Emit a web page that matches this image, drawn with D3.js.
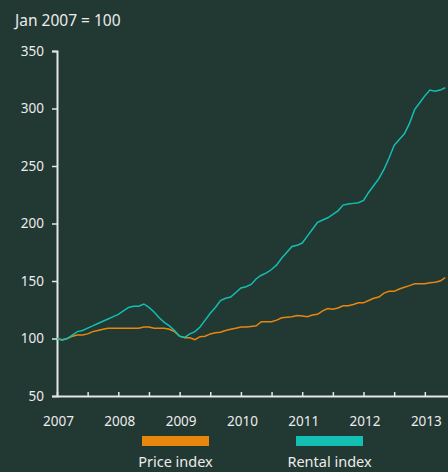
<!DOCTYPE html>
<html lang="en">
<head>
  <meta charset="utf-8">
  <title>Price and rental index</title>
  <script src="https://d3js.org/d3.v7.min.js"></script>
  <style media="screen">
    body{
      margin: 0;
      background-color: #223833;
    }
    text{
      font-family: "Noto Sans", "Open Sans", sans-serif;
      fill: #ececec;
    }
  </style>
</head>
<body>

<div id="my_dataviz"></div>

<script>

    // monthly values, Jan 2007 = 100
    var startYear = 2007
    var priceIndex = [100, 99, 100, 102, 103, 103, 104, 106, 107, 108, 109, 109,
      109, 109, 109, 109, 109, 110, 110, 109, 109, 109, 108, 106,
      102, 100.7, 100.7, 99, 101.6, 102, 104, 105, 105.5, 107, 108, 109,
      110, 110, 110.5, 111, 114.6, 114.6, 114.6, 116, 118, 118.5, 119, 120,
      119.5, 119, 120.4, 121, 124, 126, 125.5, 126.5, 128.5, 128.5, 129.5, 131,
      131, 133, 135, 136, 139.5, 141, 141, 143, 144.5, 146, 147.6, 147.6,
      147.6, 148.5, 149, 150, 153]
    var rentalIndex = [100, 98.5, 100, 103, 106, 107, 109, 111, 113, 115, 117, 119,
      121, 124, 127, 128, 128, 130, 127, 123, 118, 114, 111, 107,
      102, 101, 104, 106, 110, 116, 122, 127, 133, 135, 136, 140,
      144, 145, 147, 152, 155, 157, 160, 164, 170, 175, 180, 181,
      183, 189, 195, 201, 203, 205, 208, 211, 216, 217, 217.5, 218,
      220, 227, 233, 239, 247, 257, 268, 273, 278, 287, 299, 305,
      311, 316, 315, 316, 318]
    var seriesNames = ["Price index", "Rental index"]
    var seriesColors = ["#e8870e", "#12bfb2"]
    var yTicks = [50, 100, 150, 200, 250, 300, 350]
    var xLabels = [2007, 2008, 2009, 2010, 2011, 2012, 2013]

    var width = 448
    var height = 472

    var svg = d3.select("#my_dataviz")
      .append("svg")
        .attr("width", width)
        .attr("height", height)

    svg.append("rect")
      .attr("width", width)
      .attr("height", height)
      .attr("fill", "#223833")

    var x = d3.scaleLinear()
      .domain([2007, 2013.378])
      .range([57, 448])

    var y = d3.scaleLinear()
      .domain([50, 350])
      .range([396, 51])

    // title
    svg.append("text")
      .attr("x", 15)
      .attr("y", 26)
      .style("font-size", "15.5px")
      .text("Jan 2007 = 100")

    // y axis
    var yAxis = svg.append("g")
      .attr("transform", "translate(57,0)")
      .call(d3.axisLeft(y).tickValues(yTicks).tickSize(5).tickPadding(8))
    yAxis.select(".domain").attr("stroke", "#e6e6e6").attr("stroke-width", 2)
    yAxis.selectAll(".tick line").attr("stroke", "#e6e6e6").attr("stroke-width", 1.5)
    yAxis.selectAll(".tick text").style("font-size", "13.5px").attr("fill", "#ececec")

    // x axis, half-year ticks pointing up, labels on years only
    var halfYears = d3.range(2007, 2013.4, 0.5)
    var xAxis = svg.append("g")
      .attr("transform", "translate(0,396)")
      .call(d3.axisBottom(x).tickValues(halfYears).tickSize(0)
        .tickFormat(function(d){ return xLabels.indexOf(d) > -1 ? d : "" }).tickPadding(20))
    xAxis.select(".domain").attr("stroke", "#e6e6e6").attr("stroke-width", 2)
    xAxis.selectAll(".tick line").attr("y2", -4).attr("stroke", "#e6e6e6").attr("stroke-width", 1.5)
    xAxis.selectAll(".tick text").style("font-size", "13.5px").attr("fill", "#ececec").attr("dx", 1)

    // lines
    var line = d3.line()
      .x(function(d, i){ return x(startYear + i / 12) })
      .y(function(d){ return y(d) })

    var series = [priceIndex, rentalIndex]
    svg.append("g")
      .selectAll("path")
      .data(series)
      .enter()
      .append("path")
        .attr("d", line)
        .attr("fill", "none")
        .attr("stroke", function(d, i){ return seriesColors[i] })
        .attr("stroke-width", 1.5)

    // legend
    var legendX = [175.5, 329.5]
    var legend = svg.append("g")
      .selectAll("g")
      .data(seriesNames)
      .enter()
      .append("g")
        .attr("transform", function(d, i){ return "translate(" + legendX[i] + ",0)" })
    legend.append("rect")
      .attr("x", -33.5)
      .attr("y", 436)
      .attr("width", 67)
      .attr("height", 10)
      .attr("fill", function(d, i){ return seriesColors[i] })
    legend.append("text")
      .attr("y", 467)
      .attr("text-anchor", "middle")
      .style("font-size", "14.5px")
      .text(function(d){ return d })

</script>

</body>
</html>
